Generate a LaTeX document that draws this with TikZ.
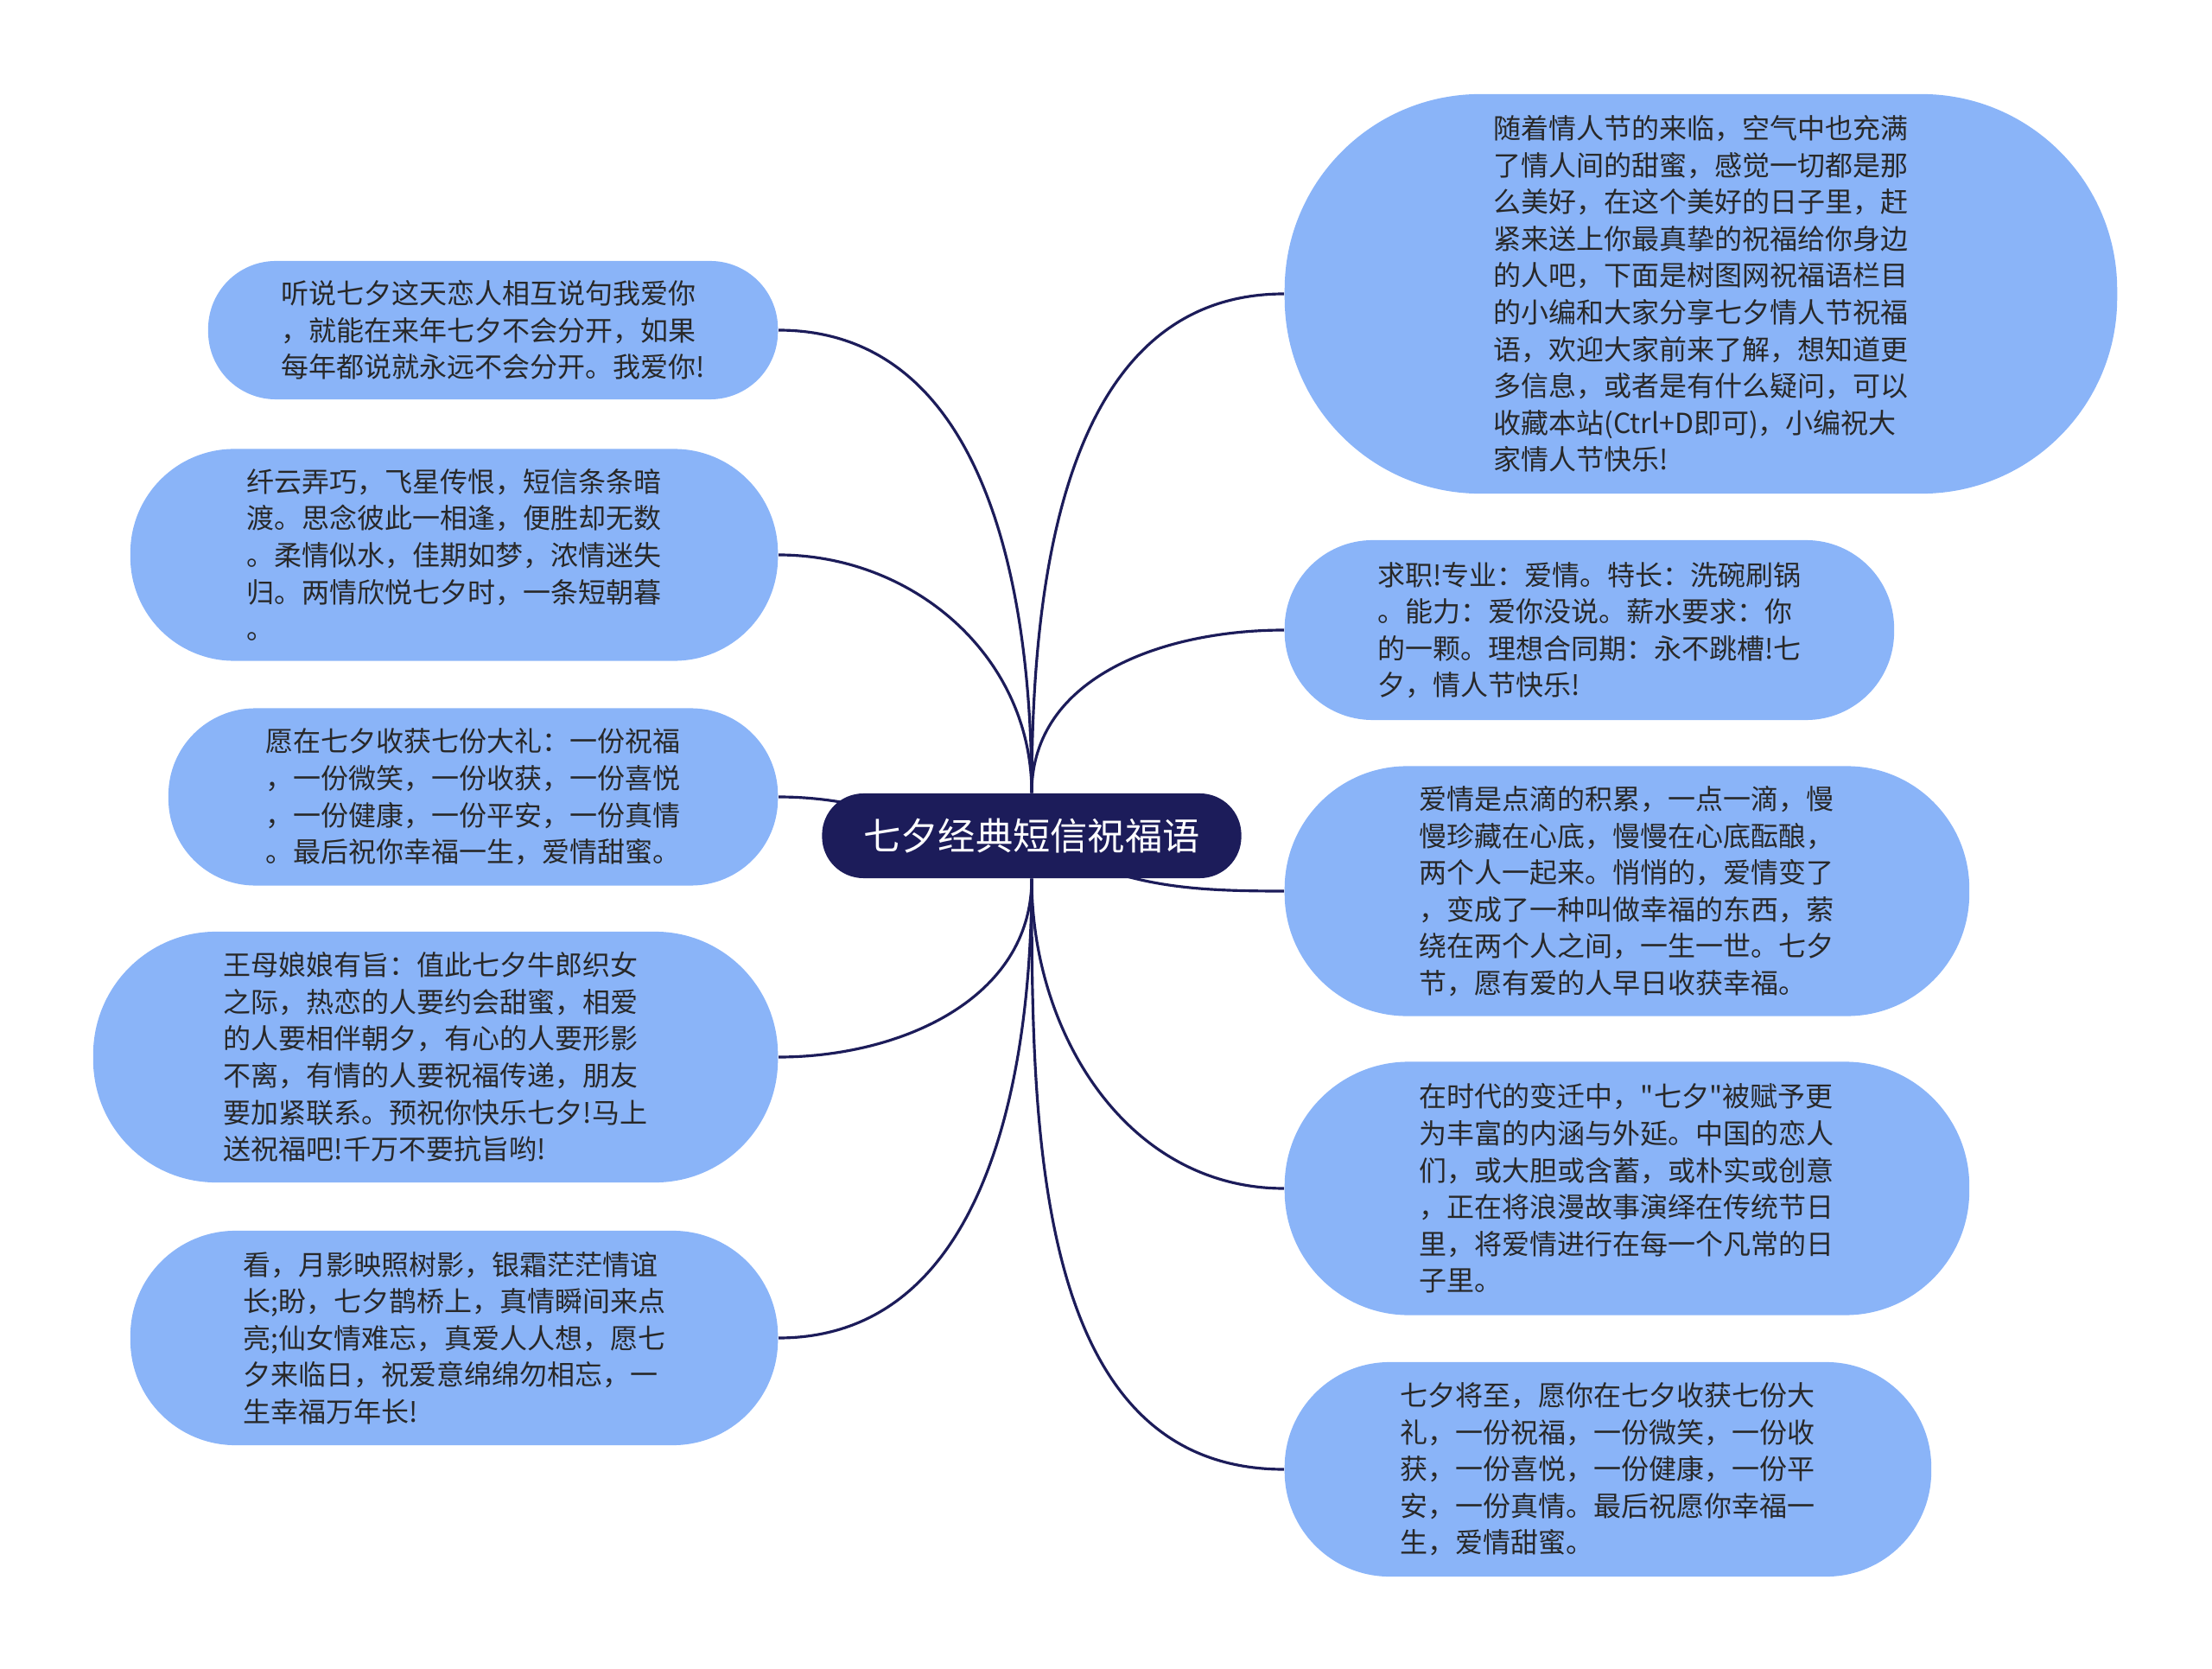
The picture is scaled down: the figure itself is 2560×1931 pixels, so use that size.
\documentclass[tikz,border=0pt]{standalone}
\usepackage{fontspec}
\setmainfont{Noto Sans CJK SC}[Ligatures=TeXOff]
\usetikzlibrary{calc,backgrounds}
\definecolor{rootnavy}{RGB}{28,28,90}
\definecolor{bubblesky}{RGB}{138,180,248}
\definecolor{ink}{RGB}{40,40,40}

\begin{document}
\begin{tikzpicture}[x=0.01cm, y=-0.01cm,
  bubble/.style 2 args={fill=bubblesky, text=ink, align=left, inner sep=0pt,
    minimum width=#1, minimum height=#2, rounded corners=#2*0.49,
    font=\fontsize{9.1pt}{12.1pt}\selectfont},
  link/.style={draw=rootnavy, line width=0.9pt}]
  \useasboundingbox (0,0) rectangle (2560,1931);

  \node[fill=rootnavy, text=white, rounded corners=0.48cm, inner sep=0pt,
    minimum width=4.85cm, minimum height=0.98cm,
    font=\fontsize{12.3pt}{14pt}\selectfont] (root) at (1194,967) {七夕经典短信祝福语};

  \node[bubble={6.59cm}{1.60cm}, anchor=east] (l1) at (901,382)
    {听说七夕这天恋人相互说句我爱你\\，就能在来年七夕不会分开，如果\\每年都说就永远不会分开。我爱你!};
  \node[bubble={7.49cm}{2.45cm}, anchor=east] (l2) at (901,642)
    {纤云弄巧，飞星传恨，短信条条暗\\渡。思念彼此一相逢，便胜却无数\\。柔情似水，佳期如梦，浓情迷失\\归。两情欣悦七夕时，一条短朝暮\\。};
  \node[bubble={7.05cm}{2.05cm}, anchor=east] (l3) at (901,922)
    {愿在七夕收获七份大礼：一份祝福\\，一份微笑，一份收获，一份喜悦\\，一份健康，一份平安，一份真情\\。最后祝你幸福一生，爱情甜蜜。};
  \node[bubble={7.92cm}{2.90cm}, anchor=east] (l4) at (901,1223)
    {王母娘娘有旨：值此七夕牛郎织女\\之际，热恋的人要约会甜蜜，相爱\\的人要相伴朝夕，有心的人要形影\\不离，有情的人要祝福传递，朋友\\要加紧联系。预祝你快乐七夕!马上\\送祝福吧!千万不要抗旨哟!};
  \node[bubble={7.49cm}{2.48cm}, anchor=east] (l5) at (901,1548)
    {看，月影映照树影，银霜茫茫情谊\\长;盼，七夕鹊桥上，真情瞬间来点\\亮;仙女情难忘，真爱人人想，愿七\\夕来临日，祝爱意绵绵勿相忘，一\\生幸福万年长!};

  \node[bubble={9.63cm}{4.62cm}, anchor=west] (r1) at (1486,340)
    {随着情人节的来临，空气中也充满\\了情人间的甜蜜，感觉一切都是那\\么美好，在这个美好的日子里，赶\\紧来送上你最真挚的祝福给你身边\\的人吧，下面是树图网祝福语栏目\\的小编和大家分享七夕情人节祝福\\语，欢迎大家前来了解，想知道更\\多信息，或者是有什么疑问，可以\\收藏本站(Ctrl+D即可)，小编祝大\\家情人节快乐!};
  \node[bubble={7.05cm}{2.08cm}, anchor=west] (r2) at (1486,729)
    {求职!专业：爱情。特长：洗碗刷锅\\。能力：爱你没说。薪水要求：你\\的一颗。理想合同期：永不跳槽!七\\夕，情人节快乐!};
  \node[bubble={7.92cm}{2.89cm}, anchor=west] (r3) at (1486,1031)
    {爱情是点滴的积累，一点一滴，慢\\慢珍藏在心底，慢慢在心底酝酿，\\两个人一起来。悄悄的，爱情变了\\，变成了一种叫做幸福的东西，萦\\绕在两个人之间，一生一世。七夕\\节，愿有爱的人早日收获幸福。};
  \node[bubble={7.92cm}{2.93cm}, anchor=west] (r4) at (1486,1375)
    {在时代的变迁中，"七夕"被赋予更\\为丰富的内涵与外延。中国的恋人\\们，或大胆或含蓄，或朴实或创意\\，正在将浪漫故事演绎在传统节日\\里，将爱情进行在每一个凡常的日\\子里。};
  \node[bubble={7.48cm}{2.48cm}, anchor=west] (r5) at (1486,1700)
    {七夕将至，愿你在七夕收获七份大\\礼，一份祝福，一份微笑，一份收\\获，一份喜悦，一份健康，一份平\\安，一份真情。最后祝愿你幸福一\\生，爱情甜蜜。};

  \begin{scope}[on background layer]
    \foreach \kid/\side/\dir/\bend in {l1/north/90/0, l2/north/90/0, l3/center/180/0,
        l4/south/-90/0, l5/south/-90/0, r1/north/90/180, r2/north/90/180,
        r3/center/-30/180, r4/south/-90/180, r5/south/-90/180}
      \draw[link] (root.\side) to[out=\dir, in=\bend]
        (\kid.\ifnum\bend=0 east\else west\fi);
  \end{scope}
\end{tikzpicture}
\end{document}
